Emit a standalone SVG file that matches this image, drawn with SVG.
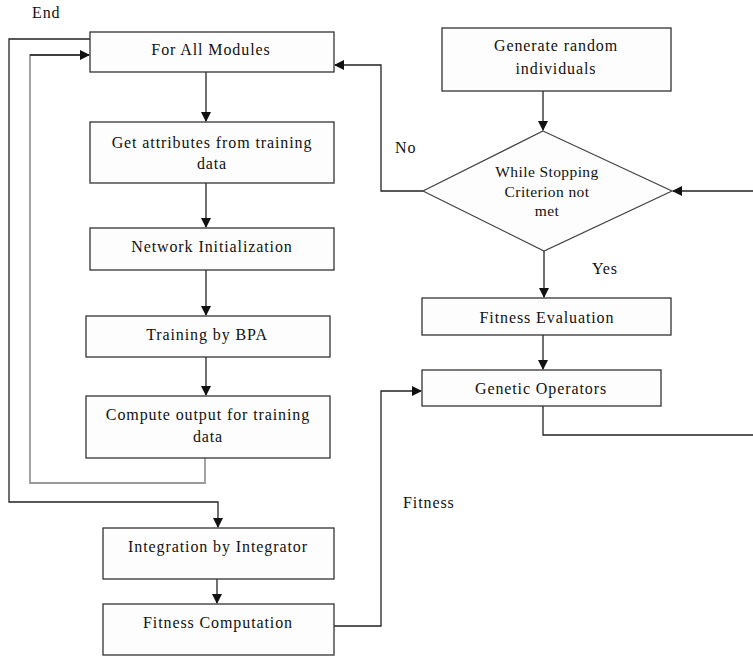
<svg xmlns="http://www.w3.org/2000/svg" width="753" height="657" viewBox="0 0 753 657">
<defs>
<marker id="ah" markerWidth="10" markerHeight="10" refX="9" refY="5" orient="auto" markerUnits="userSpaceOnUse">
<path d="M0,0 L10,5 L0,10 z" fill="#111"/>
</marker>
<style>
.box{fill:#fdfdfd;stroke:#333;stroke-width:1.3}
.dia{fill:#fdfdfd;stroke:#444;stroke-width:1.2}
.t{font-size:16px;letter-spacing:0.9px;fill:#111;text-anchor:middle}
.l{font-size:16px;letter-spacing:0.9px;fill:#111}
.d{font-size:15.5px;letter-spacing:0.4px}
.c{fill:none;stroke:#222;stroke-width:1.3}
.g{fill:none;stroke:#999;stroke-width:1.8}
</style>
</defs>
<rect width="753" height="657" fill="#fff"/>
<g id="connectors">
<path class="c" d="M90,39 H9 V502 H218 V527" marker-end="url(#ah)"/>
<path class="g" d="M205,458 V483 H30 V55 H89"/>
<path class="c" d="M30,55 H89" marker-end="url(#ah)"/>
<path class="c" d="M206,72 V121" marker-end="url(#ah)"/>
<path class="c" d="M206,183 V227" marker-end="url(#ah)"/>
<path class="c" d="M206,270 V315" marker-end="url(#ah)"/>
<path class="c" d="M206,357 V395" marker-end="url(#ah)"/>
<path class="c" d="M217,579 V603" marker-end="url(#ah)"/>
<path class="c" d="M334,626 H381 V391 H421" marker-end="url(#ah)"/>
<path class="c" d="M543,91 V130" marker-end="url(#ah)"/>
<path class="c" d="M423,191 H381 V65 H335" marker-end="url(#ah)"/>
<path class="c" d="M753,191 H673" marker-end="url(#ah)"/>
<path class="c" d="M544,251 V297" marker-end="url(#ah)"/>
<path class="c" d="M543,335 V369" marker-end="url(#ah)"/>
<path class="c" d="M543,406 V435 H753"/>
</g>
<g font-family="'Liberation Serif', 'DejaVu Serif', serif">
<g id="lbl-end"><text class="l" x="32" y="18">End</text></g>
<g id="lbl-no"><text class="l" x="395" y="153">No</text></g>
<g id="lbl-yes"><text class="l" x="592" y="274">Yes</text></g>
<g id="lbl-fitness"><text class="l" x="403" y="508">Fitness</text></g>
<g id="n-forall"><rect class="box" x="90" y="32" width="244" height="40"/><text class="t" x="211" y="55">For All Modules</text></g>
<g id="n-getattr"><rect class="box" x="90" y="122" width="244" height="61"/><text class="t" x="212" y="148">Get attributes from training</text><text class="t" x="212" y="169">data</text></g>
<g id="n-netinit"><rect class="box" x="90" y="228" width="244" height="42"/><text class="t" x="212" y="252">Network Initialization</text></g>
<g id="n-bpa"><rect class="box" x="86" y="316" width="244" height="41"/><text class="t" x="207" y="340">Training by BPA</text></g>
<g id="n-compute"><rect class="box" x="86" y="396" width="244" height="62"/><text class="t" x="208" y="420">Compute output for training</text><text class="t" x="208" y="442">data</text></g>
<g id="n-integ"><rect class="box" x="103" y="528" width="231" height="51"/><text class="t" x="218" y="552">Integration by Integrator</text></g>
<g id="n-fitcomp"><rect class="box" x="103" y="604" width="231" height="51"/><text class="t" x="218" y="628">Fitness Computation</text></g>
<g id="n-genrand"><rect class="box" x="442" y="28" width="229" height="63"/><text class="t" x="556" y="51">Generate random</text><text class="t" x="556" y="74">individuals</text></g>
<g id="n-while"><polygon class="dia" points="543,131 672,191 544,251 423,191"/><text class="t d" x="547" y="177">While Stopping</text><text class="t d" x="547" y="197">Criterion not</text><text class="t d" x="547" y="216">met</text></g>
<g id="n-fiteval"><rect class="box" x="422" y="298" width="249" height="37"/><text class="t" x="547" y="323">Fitness Evaluation</text></g>
<g id="n-genop"><rect class="box" x="422" y="370" width="239" height="36"/><text class="t" x="541" y="394">Genetic Operators</text></g>
</g>
</svg>
